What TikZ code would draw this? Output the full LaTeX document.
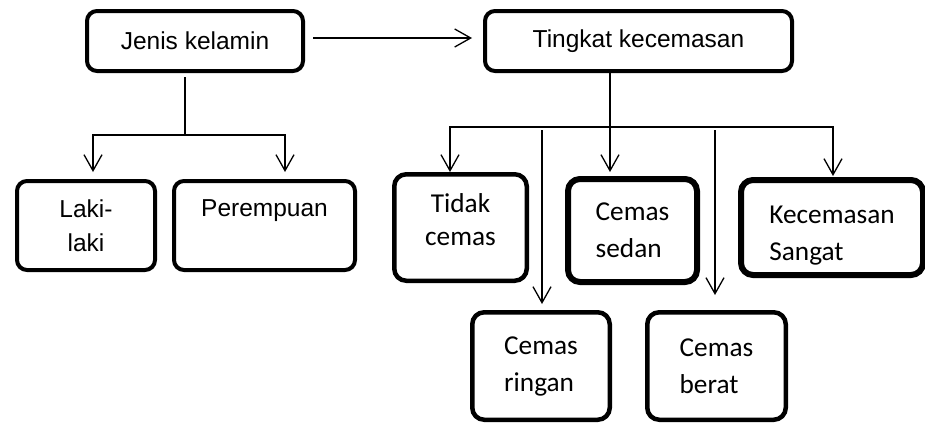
\documentclass[tikz,border=0pt]{standalone}
\usepackage{fontspec}
\usepackage{tikz}
\usepackage{xcolor}
\usetikzlibrary{arrows.meta}
\setmainfont{Liberation Sans}
\newfontfamily\calibrifont{Carlito}
\colorlet{linecolor}{black}
\tikzstyle{topbox} =[
    draw=linecolor,
    line width=4pt,
    rectangle,
    rounded corners=10pt,
    font=\fontsize{24.5}{34}\selectfont,
    align=center
    ]
\tikzstyle{lowbox} = [
    draw=linecolor,
    line width=4.5pt,
    rectangle,
    rounded corners=12pt,
    font=\calibrifont\fontsize{27.3}{37}\selectfont,
    align=left
    ]
\tikzstyle{link} = [
    draw=linecolor,
    line width=1.3pt
    ]
\tikzstyle{linkarrow} = [
    link,
    -{Straight Barb[length=16pt,width=18pt]}
    ]

\begin{document}
\begin{tikzpicture}[x=1pt,y=-1pt]
\useasboundingbox (0,0) rectangle (925,423);

% jenis kelamin
\node [topbox, minimum width=216pt, minimum height=60pt] (jenis) at (195,41) {Jenis kelamin};
\node [topbox, minimum width=138pt, minimum height=89pt] (laki) at (86,225.5) {Laki-\\laki};
\node [topbox, minimum width=181pt, minimum height=89pt] (perempuan) at (264.5,225.5) {Perempuan\\\mbox{}};

% tingkat kecemasan
\node [topbox, minimum width=307pt, minimum height=60pt] (tingkat) at (638.5,41) {Tingkat kecemasan};
\node [lowbox, align=center, font=\calibrifont\fontsize{27.3}{33}\selectfont,
       minimum width=132.5pt, minimum height=106.5pt] (tidak) at (460.5,227.5) {Tidak\\cemas\\[-18pt]\mbox{}};
\node [lowbox, line width=6pt, minimum width=129pt, minimum height=103pt] (sedan) at (632.5,230.5) {Cemas\\sedan};
\node [lowbox, line width=6pt, minimum width=182pt, minimum height=95pt] (kecemasan) at (832,227.5) {\mbox{}\\[-4pt]Kecemasan\\Sangat};
\node [lowbox, minimum width=137.5pt, minimum height=107.5pt] (ringan) at (541,366) {Cemas\\ringan};
\node [lowbox, minimum width=138.5pt, minimum height=107.5pt] (berat) at (716.5,366) {Cemas\\berat};

\coordinate (jsplit) at (185,135);
\coordinate (tsplit) at (610,127);

\draw [linkarrow] ([xshift=8pt,yshift=3pt]jenis.east) -- ([xshift=-11pt,yshift=3pt]tingkat.west);

\draw [link, shorten <=4pt] (jsplit |- jenis.south) -- (jsplit);
\draw [linkarrow] (jsplit) -| ([xshift=7pt,yshift=7pt]laki.north);
\draw [linkarrow] (jsplit) -| ([xshift=20.5pt,yshift=7pt]perempuan.north);

\draw [link] (tsplit |- tingkat.south) -- (tsplit);
\draw [linkarrow] (tsplit) -| ([xshift=-10.5pt]tidak.north);
\draw [linkarrow] (tsplit) -- ([xshift=-22.5pt,yshift=4pt]sedan.north);
\draw [linkarrow] (tsplit) -| ([xshift=1pt,yshift=1pt]kecemasan.north);
\draw [linkarrow, shorten <=3pt] ([xshift=1pt]ringan.north |- tsplit) -- ([xshift=1pt,yshift=6pt]ringan.north);
\draw [linkarrow, shorten <=3pt] ([xshift=-1.5pt]berat.north |- tsplit) -- ([xshift=-1.5pt,yshift=15pt]berat.north);
\end{tikzpicture}
\end{document}
